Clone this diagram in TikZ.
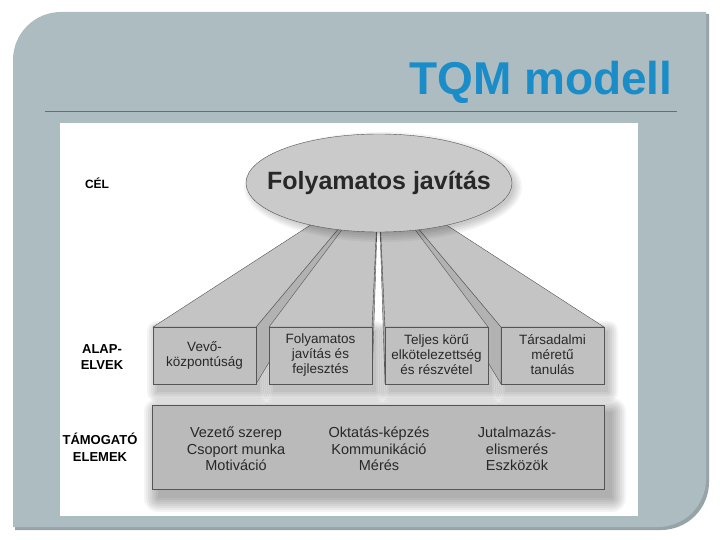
\documentclass[tikz,border=0pt]{standalone}
\usepackage{fontspec}
\setmainfont{Liberation Sans}
\usepackage{xcolor}
\usetikzlibrary{positioning,calc,shapes.geometric}

\definecolor{panelgray}{RGB}{173,188,192}
\definecolor{paneldark}{RGB}{150,163,167}
\definecolor{titleblue}{RGB}{26,140,200}
\definecolor{lineblue}{RGB}{60,120,175}
\definecolor{edgegray}{RGB}{85,85,85}
\definecolor{frontgray}{RGB}{192,192,192}
\definecolor{topgray}{RGB}{196,196,196}
\definecolor{sidegray}{RGB}{178,178,178}
\definecolor{ellgray}{RGB}{202,202,202}
\definecolor{elemgray}{RGB}{186,186,186}
\definecolor{textgray}{RGB}{40,40,40}

\begin{document}
\begin{tikzpicture}[
    x=1pt, y=-1pt,
    node distance=13pt,
    boxshape/.style={rectangle, minimum width=103pt, minimum height=57pt, inner sep=0pt, outer sep=0pt},
    frontface/.style={draw=edgegray, fill=frontgray},
    topface/.style={draw=edgegray, fill=topgray},
    sideface/.style={draw=edgegray, fill=sidegray},
    softshadow/.style={fill=black, opacity=0.045},
    boxtext/.style={align=center, text=textgray, font=\fontsize{13.5}{15}\selectfont},
    sidelbl/.style={font=\bfseries\fontsize{13}{16.5}\selectfont, align=center, text=black},
    elemcol/.style={font=\fontsize{14.5}{16.5}\selectfont, align=center, text=textgray}
]
    \useasboundingbox (0,0) rectangle (720,540);

    % slide background
    \fill[white] (0,0) rectangle (720,540);
    \fill[paneldark] (15,530) -- (15,62) arc[start angle=180, end angle=270, radius=48] -- (709,14) -- (709,482) arc[start angle=0, end angle=90, radius=48] -- cycle;
    \fill[panelgray] (13,527) -- (13,60) arc[start angle=180, end angle=270, radius=48] -- (706,12) -- (706,479) arc[start angle=0, end angle=90, radius=48] -- cycle;
    \fill[white] (60,123) rectangle (638,516);
    \draw[lineblue, line width=1pt] (45,112) -- (677,112);

    \node[anchor=base east, font=\bfseries\fontsize{46}{50}\selectfont, text=titleblue] (title) at (676,95) {TQM modell};

    % alapelvek: front boxes and vanishing point
    \coordinate (vp) at (378.5,181);
    \node[boxshape] (f1) at (204.5,355.5) {};
    \node[boxshape, right=of f1] (f2) {};
    \node[boxshape, right=of f2] (f3) {};
    \node[boxshape, right=of f3] (f4) {};

    % shadows
    \foreach \b in {f1,f2,f3,f4}
        \foreach \k in {0,2,...,10}
            \fill[softshadow, rounded corners=\k] ($(\b.north west)+(4-\k,4-\k)$) rectangle ($(\b.south east)+(4+\k,8+\k)$);
    \foreach \k in {0,2,...,14}
        \fill[softshadow, rounded corners=\k] (158-\k,412-\k) rectangle (612+\k,498+\k);

    % receding faces
    \draw[sideface] (f1.north east) -- (f1.south east) -- ($(f1.south east)!0.8!(vp)$) -- ($(f1.north east)!0.8!(vp)$) -- cycle;
    \draw[sideface] (f2.north east) -- (f2.south east) -- ($(f2.south east)!0.8!(vp)$) -- ($(f2.north east)!0.8!(vp)$) -- cycle;
    \draw[sideface] (f3.north west) -- (f3.south west) -- ($(f3.south west)!0.8!(vp)$) -- ($(f3.north west)!0.8!(vp)$) -- cycle;
    \draw[sideface] (f4.north west) -- (f4.south west) -- ($(f4.south west)!0.8!(vp)$) -- ($(f4.north west)!0.8!(vp)$) -- cycle;
    \draw[topface] (f1.north west) -- (f1.north east) -- ($(f1.north east)!0.8!(vp)$) -- ($(f1.north west)!0.8!(vp)$) -- cycle;
    \draw[topface] (f2.north west) -- (f2.north east) -- ($(f2.north east)!0.8!(vp)$) -- ($(f2.north west)!0.8!(vp)$) -- cycle;
    \draw[topface] (f3.north west) -- (f3.north east) -- ($(f3.north east)!0.8!(vp)$) -- ($(f3.north west)!0.8!(vp)$) -- cycle;
    \draw[topface] (f4.north west) -- (f4.north east) -- ($(f4.north east)!0.8!(vp)$) -- ($(f4.north west)!0.8!(vp)$) -- cycle;

    % front faces
    \draw[frontface] (f1.north west) rectangle (f1.south east);
    \draw[frontface] (f2.north west) rectangle (f2.south east);
    \draw[frontface] (f3.north west) rectangle (f3.south east);
    \draw[frontface] (f4.north west) rectangle (f4.south east);
    \node[boxtext] (t1) at (f1) {Vevő-\\központúság};
    \node[boxtext] (t2) at (f2) {Folyamatos\\javítás és\\fejlesztés};
    \node[boxtext] (t3) at ($(f3)+(0,-1)$) {Teljes körű\\elkötelezettség\\és részvétel};
    \node[boxtext] (t4) at ($(f4)+(0,-1)$) {Társadalmi\\méretű\\tanulás};

    % cel
    \foreach \k in {0,2,...,8}
        \fill[softshadow] (383,187) ellipse [x radius=131+\k, y radius=47+\k];
    \node[ellipse, draw=edgegray, fill=ellgray, minimum width=266pt, minimum height=98pt, inner sep=0pt] (cel) at (379,183) {};
    \node[text=textgray, font=\bfseries\fontsize{25}{30}\selectfont] (celtext) at (cel) {Folyamatos javítás};

    % tamogato elemek
    \node[rectangle, draw=edgegray, fill=elemgray, minimum width=452pt, minimum height=84pt] (elem) at (378,447) {};
    \node[elemcol] (e1) at (236,449) {Vezető szerep\\Csoport munka\\Motiváció};
    \node[elemcol] (e2) at (379,449) {Oktatás-képzés\\Kommunikáció\\Mérés};
    \node[elemcol] (e3) at (517,449) {Jutalmazás-\\elismerés\\Eszközök};

    % bal oldali cimkek
    \node[sidelbl, font=\bfseries\fontsize{12}{14}\selectfont] (lcel) at (97,183) {CÉL};
    \node[sidelbl] (lalap) at (102,357) {ALAP-\\ELVEK};
    \node[sidelbl] (ltam) at (100,447) {TÁMOGATÓ\\ELEMEK};
\end{tikzpicture}
\end{document}
